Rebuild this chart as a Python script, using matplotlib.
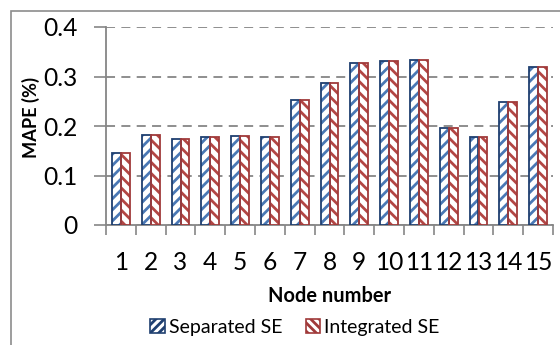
import matplotlib
matplotlib.use("Agg")
import matplotlib.pyplot as plt
import matplotlib.patches as mpatches
import numpy as np

plt.rcParams['font.family'] = ['Lato', 'DejaVu Sans']
plt.rcParams['hatch.linewidth'] = 2.0

# Data
nodes = [str(i) for i in range(1, 16)]
separated_se = [0.146, 0.182, 0.173, 0.177, 0.179, 0.177, 0.253, 0.286,
                0.328, 0.331, 0.333, 0.196, 0.177, 0.249, 0.319]
integrated_se = [0.146, 0.182, 0.173, 0.177, 0.179, 0.177, 0.253, 0.286,
                 0.328, 0.331, 0.333, 0.196, 0.177, 0.249, 0.319]
yticks = [0, 0.1, 0.2, 0.3, 0.4]
ytick_labels = ['0', '0.1', '0.2', '0.3', '0.4']

blue_edge = '#1F3F70'
blue_hatch = '#4A78B5'
red_edge = '#A03A3A'
red_hatch = '#B34644'
grey = '#868686'

W, H = 560, 345
fig = plt.figure(figsize=(W / 100, H / 100), dpi=100)
ax = fig.add_axes([106 / W, 120 / H, 447 / W, 198 / H])
renderer = fig.canvas.get_renderer()


def fit_width(txt, target_px, vertical=False):
    """Scale a text's font size so that its rendered extent is target_px."""
    bb = txt.get_window_extent(renderer)
    extent = bb.height if vertical else bb.width
    txt.set_fontsize(txt.get_fontsize() * target_px / extent)
    return txt.get_fontsize()


x = np.arange(len(nodes))
w = 0.3
ax.bar(x - w / 2, separated_se, w, facecolor='white', edgecolor=blue_hatch,
       hatch='///', linewidth=0, zorder=3)
ax.bar(x - w / 2, separated_se, w, facecolor='none', edgecolor=blue_edge,
       linewidth=1.3, zorder=4)
ax.bar(x + w / 2, integrated_se, w, facecolor='white', edgecolor=red_hatch,
       hatch='\\\\\\', linewidth=0, zorder=3)
ax.bar(x + w / 2, integrated_se, w, facecolor='none', edgecolor=red_edge,
       linewidth=1.3, zorder=4)

ax.set_xlim(-0.5, len(nodes) - 0.5)
ax.set_ylim(0, 0.4)
ax.set_yticks(yticks)
ax.yaxis.grid(True, linestyle=(0, (5, 3.5)), color=grey, linewidth=1.3, zorder=0)
ax.set_axisbelow(True)

# Category labels centred under the groups, tick marks between groups
ax.set_xticks(x)
ax.set_xticks(np.arange(-0.5, len(nodes), 1.0), minor=True)
ax.tick_params(axis='x', which='major', length=0, pad=19)
ax.tick_params(axis='x', which='minor', length=7, width=1.2, color=grey,
               direction='out')
ax.tick_params(axis='y', length=9, width=1.2, color=grey, direction='out', pad=11.5)

for s in ['top', 'right']:
    ax.spines[s].set_visible(False)
for s in ['left', 'bottom']:
    ax.spines[s].set_color(grey)
    ax.spines[s].set_linewidth(1.3)

# Tick label size: "0.4" spans about 34 px
probe = fig.text(0, 0, '0.4', fontsize=12)
tick_fs = fit_width(probe, 34)
probe.remove()
ax.set_yticklabels(ytick_labels, fontsize=tick_fs)
ax.set_xticklabels(nodes, fontsize=tick_fs)

xl = fig.text(329 / W, 1 - 296 / H, 'Node number', ha='center', va='center',
              fontsize=11, fontweight='bold')
fit_width(xl, 122)
yl = fig.text(31 / W, 1 - 118 / H, 'MAPE (%)', ha='center', va='center',
              fontsize=11, fontweight='bold', rotation=90)
fit_width(yl, 81, vertical=True)

# Legend
probe = fig.text(0, 0, 'Separated SE', fontsize=12)
leg_fs = fit_width(probe, 113)
probe.remove()
h1 = mpatches.Patch(facecolor='white', edgecolor=blue_edge, hatch='////', linewidth=1.2)
h2 = mpatches.Patch(facecolor='white', edgecolor=red_edge, hatch='\\\\\\\\', linewidth=1.2)
fig.legend([h1, h2], ['Separated SE', 'Integrated SE'], loc='center',
           bbox_to_anchor=(295 / W, 1 - 327 / H), ncol=2, frameon=False,
           fontsize=leg_fs, handlelength=0.75, handleheight=0.75,
           handletextpad=0.2, columnspacing=1.2, borderpad=0)

# Chart area border
fig.add_artist(mpatches.Rectangle((11 / W, -0.05), 1.2, 1 - 11 / H + 0.05,
                                  transform=fig.transFigure, facecolor='none',
                                  edgecolor='#8C8C8C', linewidth=1.2, clip_on=False))

fig.savefig('out.png', dpi=100)
